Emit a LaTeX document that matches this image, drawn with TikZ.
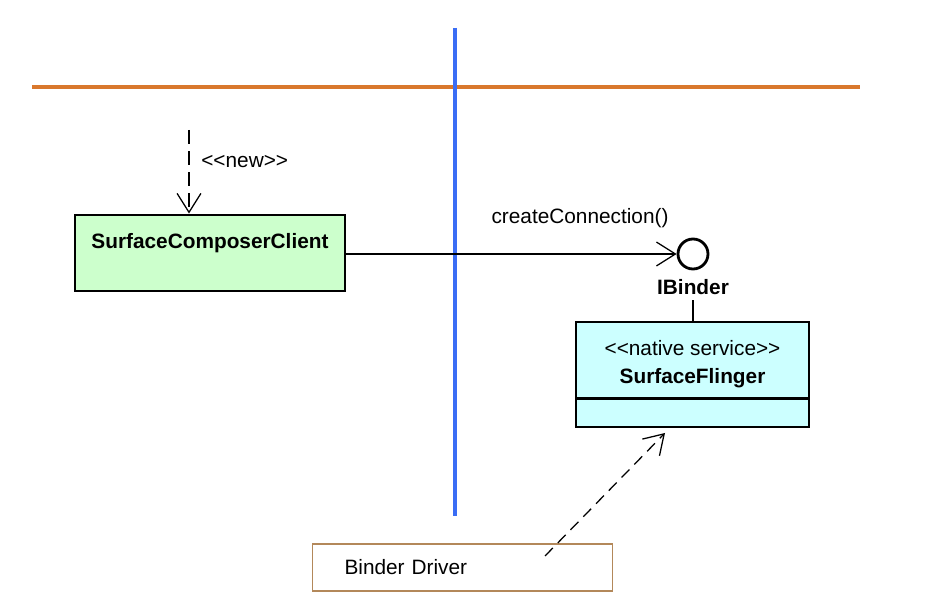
\documentclass[tikz,border=0pt]{standalone}
\usepackage{fontspec}
\setmainfont{Liberation Sans}[Ligatures=TeXOff]
\usetikzlibrary{arrows.meta, shapes.multipart, positioning}

\definecolor{verdeclaro}{HTML}{CCFFCC}
\definecolor{cianclaro}{HTML}{CCFFFF}
\definecolor{naranja}{HTML}{D9782D}
\definecolor{azul}{HTML}{3A6DF5}
\definecolor{marron}{HTML}{B3885A}

\begin{document}
\begin{tikzpicture}[
		clase/.style={rectangle split, rectangle split parts=2, draw, line width=2pt, inner xsep=0pt, align=center},
		punta/.style={-{Straight Barb[length=13.5pt, width=17pt, line width=0.9pt]}},
		font=\fontsize{14.8}{19.8}\selectfont, line width=0.9pt]

	\useasboundingbox (0,0) rectangle (23.55,15.3);

	% Fronteras
	\draw[naranja, line width=2.2pt] (0.8,13.125) -- (21.5,13.125);
	\draw[azul, line width=2.2pt] (11.375,14.6) -- (11.375,2.4);

	\node[clase, fill=verdeclaro, rectangle split draw splits=false, inner ysep=0.218cm, minimum width=6.75cm] (client) at (5.25,8.975) {\rule{0pt}{17pt}\textbf{SurfaceComposerClient}\nodepart{two}};
	\node[circle, draw, line width=2pt, minimum size=0.75cm, inner sep=0pt] (ibinder) at (17.325,8.95) {};
	\node[font=\fontsize{14.8}{19.8}\bfseries, below=0.1cm of ibinder] (ibinderlbl) {IBinder};
	\node[clase, fill=cianclaro, inner ysep=0.2275cm, minimum width=5.825cm] (sf) at (17.3125,5.9375) {\rule{0pt}{16.6pt}<<native service>>\\\textbf{SurfaceFlinger}\nodepart{two}};
	\node[draw=marron, line width=1pt, text width=5.9cm, inner xsep=0.8cm, minimum height=1.175cm, align=left] (driver) at (11.5625,1.1125) {Binder Driver};

	\coordinate (nuevo) at (4.725,12.05);
	\coordinate (d0) at (13.625,1.4);
	\coordinate (d1) at (16.625,4.475);

	\draw[punta, dash pattern=on 10pt off 5pt] (nuevo) -- (client.north -| nuevo);
	\draw[punta] (client.east |- ibinder.west) -- (ibinder.west);
	\draw (ibinderlbl.south -| ibinder) -- (sf.north -| ibinder);
	\draw[punta, dash pattern=on 8pt off 5pt] (d0) -- (d1);

	% Etiquetas
	\node[anchor=west] (newlbl) at (4.9,11.25) {<<new>>};
	\node (connlbl) at (14.5,9.85) {createConnection()};

\end{tikzpicture}
\end{document}
